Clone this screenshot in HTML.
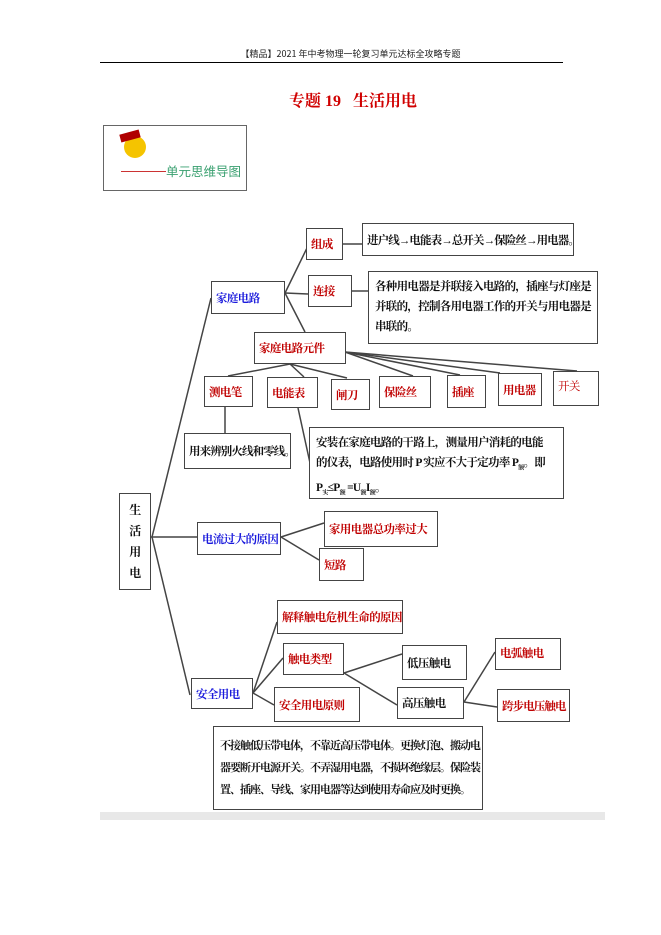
<!DOCTYPE html>
<html><head><meta charset="utf-8"><style>
body{margin:0;width:661px;height:935px;background:#fff;position:relative;overflow:hidden;font-family:"Liberation Serif","Noto Serif CJK SC","Noto Sans CJK SC",serif;}
.b{position:absolute;border:1.5px solid #444;box-sizing:border-box;background:#fff;font-size:11.5px;letter-spacing:-0.6px;display:flex;align-items:center;padding-left:4px;white-space:nowrap;overflow:hidden;font-weight:bold;}
.r{color:#c00000;}.u{color:#1a1adc;}.k{color:#111;}
.t{position:absolute;border:1.5px solid #444;box-sizing:border-box;background:#fff;font-size:11.5px;letter-spacing:-0.7px;line-height:20px;padding:5px 6px;color:#111;overflow:hidden;white-space:nowrap;font-weight:bold;}
</style></head><body>
<div style="position:absolute;left:0;width:661px;top:47px;text-align:center;font-size:9px;font-family:'Noto Sans CJK SC',sans-serif;color:#222;padding-left:40px;box-sizing:border-box">【精品】2021 年中考物理一轮复习单元达标全攻略专题</div>
<div style="position:absolute;left:100px;top:62px;width:463px;height:1px;background:#000"></div>
<div style="position:absolute;left:0;width:661px;top:88px;text-align:center;font-size:16px;font-weight:bold;color:#d00000;padding-left:45px;box-sizing:border-box">专题 19&nbsp;&nbsp;&nbsp;生活用电</div>
<div style="position:absolute;left:103px;top:125px;width:144px;height:66px;border:1px solid #666;box-sizing:border-box">
<div style="position:absolute;left:20px;top:10px;width:22px;height:22px;border-radius:50%;background:#f5c400"></div>
<div style="position:absolute;left:16px;top:6px;width:20px;height:8px;background:#b00000;transform:rotate(-15deg)"></div>
<div style="position:absolute;left:17px;top:45px;width:45px;height:1px;background:#c33"></div>
<div style="position:absolute;left:62px;top:35px;font-size:12.5px;color:#3aa070;font-family:'Noto Sans CJK SC',sans-serif">单元思维导图</div>
</div>
<svg style="position:absolute;left:0;top:0" width="661" height="935" stroke="#444" stroke-width="1.5" fill="none">
<line x1="285" y1="293" x2="307" y2="248"/><line x1="285" y1="293" x2="308" y2="294"/><line x1="285" y1="293" x2="305" y2="332"/>
<line x1="343" y1="244" x2="362" y2="244"/><line x1="352" y1="291" x2="368" y2="291"/>
<line x1="290" y1="364" x2="228" y2="376"/><line x1="290" y1="364" x2="304" y2="377"/><line x1="290" y1="364" x2="347" y2="378"/>
<line x1="345" y1="352" x2="413" y2="376"/><line x1="345" y1="352" x2="460" y2="375"/><line x1="345" y1="352" x2="500" y2="373"/><line x1="345" y1="352" x2="577" y2="371"/>
<line x1="225" y1="407" x2="225" y2="433"/><line x1="298" y1="408" x2="310" y2="463"/>
<line x1="211" y1="298" x2="152" y2="537"/><line x1="152" y1="537" x2="190" y2="695"/><line x1="151" y1="537" x2="197" y2="537"/>
<line x1="281" y1="537" x2="324" y2="523"/><line x1="281" y1="537" x2="319" y2="560"/>
<line x1="253" y1="693" x2="277" y2="622"/><line x1="253" y1="693" x2="283" y2="658"/><line x1="253" y1="693" x2="274" y2="705"/>
<line x1="344" y1="673" x2="402" y2="654"/><line x1="344" y1="673" x2="397" y2="705"/>
<line x1="464" y1="702" x2="495" y2="652"/><line x1="464" y1="702" x2="497" y2="707"/>
</svg>
<div class="b r" style="left:306px;top:228px;width:37px;height:32px">组成</div>
<div class="b k" style="left:362px;top:223px;width:212px;height:33px;letter-spacing:-0.9px">进户线→电能表→总开关→保险丝→用电器。</div>
<div class="b u" style="left:211px;top:281px;width:74px;height:33px">家庭电路</div>
<div class="b r" style="left:308px;top:275px;width:44px;height:32px">连接</div>
<div class="t" style="left:368px;top:271px;width:230px;height:73px">各种用电器是并联接入电路的，插座与灯座是<br>并联的，控制各用电器工作的开关与用电器是<br>串联的。</div>
<div class="b r" style="left:254px;top:332px;width:92px;height:32px">家庭电路元件</div>
<div class="b r" style="left:204px;top:376px;width:49px;height:31px">测电笔</div>
<div class="b r" style="left:267px;top:377px;width:51px;height:31px">电能表</div>
<div class="b r" style="left:331px;top:379px;width:39px;height:31px">闸刀</div>
<div class="b r" style="left:379px;top:376px;width:52px;height:32px">保险丝</div>
<div class="b r" style="left:447px;top:375px;width:39px;height:33px">插座</div>
<div class="b r" style="left:498px;top:373px;width:44px;height:33px">用电器</div>
<div class="b r" style="left:553px;top:371px;width:46px;height:35px;align-items:flex-start;padding-top:6px;font-weight:normal">开关</div>
<div class="b k" style="left:184px;top:433px;width:107px;height:36px;letter-spacing:-0.9px">用来辨别火线和零线。</div>
<div class="t" style="left:309px;top:427px;width:255px;height:72px">安装在家庭电路的干路上，测量用户消耗的电能<br>的仪表，电路使用时 P 实应不大于定功率 P<sub style="font-size:6px">额</sub>。即<br>P<sub style="font-size:6px">实</sub>≤P<sub style="font-size:6px">额</sub> =U<sub style="font-size:6px">额</sub>I<sub style="font-size:6px">额</sub>。</div>
<div class="b k" style="left:119px;top:493px;width:32px;height:97px;flex-direction:column;justify-content:space-around;padding:6px 0;line-height:14px;font-size:12px">
<span>生</span><span>活</span><span>用</span><span>电</span></div>
<div class="b u" style="left:197px;top:522px;width:84px;height:33px">电流过大的原因</div>
<div class="b r" style="left:324px;top:511px;width:114px;height:36px">家用电器总功率过大</div>
<div class="b r" style="left:319px;top:548px;width:45px;height:33px">短路</div>
<div class="b r" style="left:277px;top:600px;width:126px;height:34px">解释触电危机生命的原因</div>
<div class="b r" style="left:283px;top:643px;width:61px;height:32px">触电类型</div>
<div class="b r" style="left:274px;top:687px;width:86px;height:35px">安全用电原则</div>
<div class="b k" style="left:402px;top:645px;width:65px;height:35px">低压触电</div>
<div class="b k" style="left:397px;top:687px;width:67px;height:32px">高压触电</div>
<div class="b r" style="left:495px;top:638px;width:66px;height:32px;align-items:flex-start;padding-top:6px">电弧触电</div>
<div class="b r" style="left:497px;top:689px;width:73px;height:33px;letter-spacing:-0.9px">跨步电压触电</div>
<div class="b u" style="left:191px;top:678px;width:62px;height:31px">安全用电</div>
<div class="t" style="left:213px;top:726px;width:270px;height:84px;padding-top:8px;line-height:22px;font-size:11px;letter-spacing:-1px">不接触低压带电体，不靠近高压带电体。更换灯泡、搬动电<br>器要断开电源开关。不弄湿用电器，不损坏绝缘层。保险装<br>置、插座、导线、家用电器等达到使用寿命应及时更换。</div>
<div style="position:absolute;left:100px;top:812px;width:505px;height:8px;background:#e8e8e8"></div>
</body></html>
